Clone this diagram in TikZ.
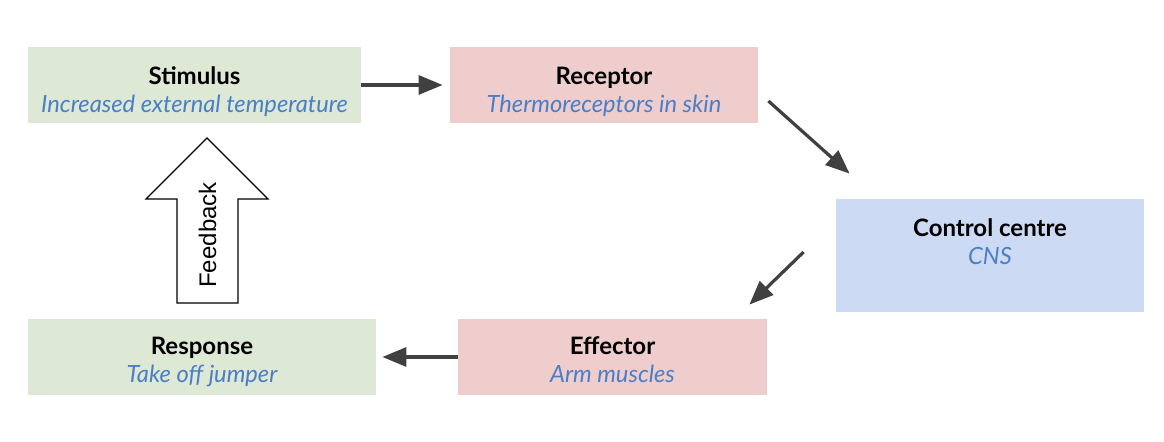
\documentclass[tikz,border=0pt]{standalone}
\usepackage{fontspec}
\setmainfont{Lato}
\newfontfamily\arialfont{Liberation Sans}
\usetikzlibrary{arrows.meta, positioning}
\definecolor{stimgreen}{HTML}{DDE8D5}
\definecolor{recpink}{HTML}{EECDCC}
\definecolor{ctrlblue}{HTML}{CCDAF4}
\definecolor{subblue}{HTML}{4A7EC6}
\definecolor{arrowgrey}{HTML}{404040}

\begin{document}
\begin{tikzpicture}[x=0.5pt, y=-0.5pt, font=\fontsize{12}{14.5}\selectfont,
  box/.style={rectangle, inner sep=0pt, minimum height=38pt},
  title/.style={anchor=base, font=\fontsize{12}{14.5}\selectfont\bfseries},
  sub/.style={anchor=base, text=subblue, font=\fontsize{11.85}{14}\selectfont\itshape},
  link/.style={draw=arrowgrey, line width=1.6pt, -{Triangle[length=12pt, width=9.5pt]}}]
\useasboundingbox (0,0) rectangle (1164,442);
% boxes
\node[box, fill=stimgreen, minimum width=166.5pt] (stim) at (194.5,85) {};
\node[box, fill=recpink, minimum width=154pt] (rec) at (604,85) {};
\node[box, fill=ctrlblue, minimum width=154pt, minimum height=56.5pt] (ctrl) at (990,255.5) {};
\node[box, fill=recpink, minimum width=154.5pt] (eff) at (612.5,357) {};
\node[box, fill=stimgreen, minimum width=174pt] (resp) at (202,357) {};
% texts
\node[title] (stimT) at ([yshift=-18.8pt]stim.north) {Stimulus};
\node[sub] (stimS) at ([yshift=-32.8pt]stim.north) {Increased external temperature};
\node[title] (recT) at ([yshift=-18.8pt]rec.north) {Receptor};
\node[sub] (recS) at ([yshift=-32.8pt]rec.north) {Thermoreceptors in skin};
\node[title] (ctrlT) at ([yshift=-18.8pt]ctrl.north) {Control centre};
\node[sub] (ctrlS) at ([yshift=-32.8pt]ctrl.north) {CNS};
\node[title] (effT) at ([yshift=-18pt]eff.north) {Effector};
\node[sub] (effS) at ([yshift=-32pt]eff.north) {Arm muscles};
\node[title] (respT) at ([yshift=-18pt]resp.north) {Response};
\node[sub] (respS) at ([yshift=-32pt]resp.north) {Take off jumper};
% arrows
\draw[link] (stim.east) -- ([xshift=-3.5pt]rec.west);
\draw[link] ([shift={(10,16)}]rec.east) -- ([shift={(14,-25)}]ctrl.north west);
\draw[link] ([shift={(-32,-3.5)}]ctrl.west) -- ([shift={(-18,-14)}]eff.north east);
\draw[link] (eff.west) -- ([xshift=3pt]resp.east);
% feedback
\draw[line width=0.6pt, line join=miter] (177,303) -- (177,199) -- (146,199) -- (207,138)
  -- (268,199) -- (238,199) -- (238,303) -- cycle;
\node[rotate=90, font=\arialfont\fontsize{12}{14}\selectfont] (fbtxt) at (207.5,235) {Feedback};
\end{tikzpicture}
\end{document}
